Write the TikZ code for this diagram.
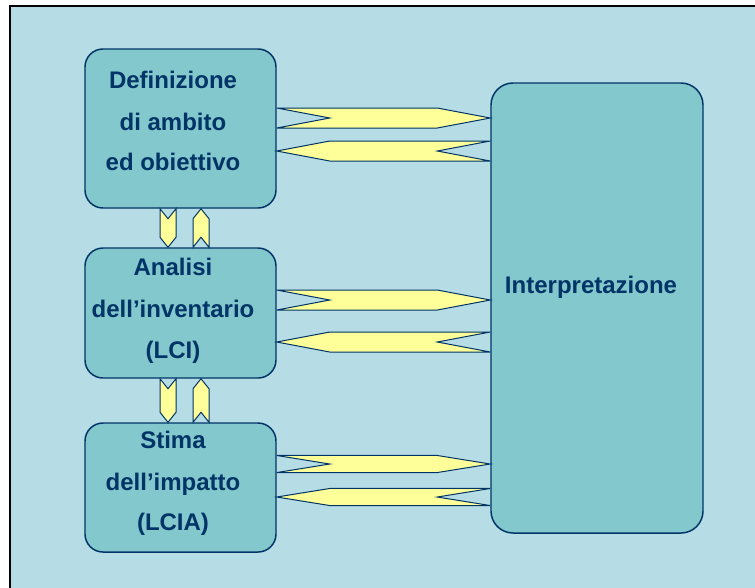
\documentclass[tikz,border=0pt]{standalone}
\usepackage{fontspec}
\setmainfont{Liberation Sans}
\usetikzlibrary{calc}
\definecolor{slidebg}{RGB}{182,221,230}
\definecolor{boxfill}{RGB}{130,200,204}
\definecolor{navy}{RGB}{0,51,102}
\definecolor{arrowfill}{RGB}{255,255,153}
% block arrow with notched tail: start, end, half width, taper
\newcommand{\flowarrow}[4]{%
  \draw[flow] ($(#1)!#3!90:(#2)$) -- ($(#1)!#4!(#2)$) -- ($(#1)!#3!-90:(#2)$)
    -- ($(#2)!#4!(#1)!#3!90:(#1)$) -- (#2) -- ($(#2)!#4!(#1)!#3!-90:(#1)$) -- cycle;}
\begin{document}
\begin{tikzpicture}[x=0.75pt, y=-0.75pt,
    box/.style={draw=navy, fill=boxfill, line width=1.1pt, rounded corners=13.5pt, minimum width=143.25pt, inner sep=0pt},
    lbl/.style={text=navy, font=\fontsize{18}{18}\selectfont\bfseries, anchor=base, inner sep=0pt},
    flow/.style={draw=navy, fill=arrowfill, line width=0.75pt, line join=miter}]
    \useasboundingbox (0,0) rectangle (755,587);
    \fill[white] (0,0) rectangle (755,587);
    \draw[fill=slidebg, line width=1.5pt] (10,6) rectangle (775,600);

    \node[box, minimum height=119.25pt] (def) at (180.5,128.5) {};
    \node[box, minimum height=97.5pt] (lci) at (180.5,313) {};
    \node[box, minimum height=96.75pt] (lcia) at (180.5,487.5) {};
    \node[box, minimum width=159pt, minimum height=337.5pt, rounded corners=16.5pt] (interp) at (597,308) {};

    \node[lbl] (def-a) at (173,88) {Definizione};
    \node[lbl] (def-b) at (173,130) {di ambito};
    \node[lbl] (def-c) at (173,170) {ed obiettivo};
    \node[lbl] (lci-a) at (173,275) {Analisi};
    \node[lbl] (lci-b) at (173,317) {dell’inventario};
    \node[lbl] (lci-c) at (173,358) {(LCI)};
    \node[lbl] (lcia-a) at (173,448) {Stima};
    \node[lbl] (lcia-b) at (173,490) {dell’impatto};
    \node[lbl] (lcia-c) at (173,530) {(LCIA)};
    \node[lbl] (interp-a) at (591,293) {Interpretazione};

    % arrows to and from the interpretation
    \coordinate (def-out) at (def.east |- 0,118);
    \coordinate (def-in) at (def.east |- 0,151);
    \coordinate (interp-1) at (interp.west |- 0,118);
    \coordinate (interp-2) at (interp.west |- 0,151);
    \coordinate (lci-out) at (lci.east |- 0,300);
    \coordinate (lci-in) at (lci.east |- 0,342);
    \coordinate (interp-3) at (interp.west |- 0,300);
    \coordinate (interp-4) at (interp.west |- 0,342);
    \coordinate (lcia-out) at (lcia.east |- 0,464);
    \coordinate (lcia-in) at (lcia.east |- 0,497);
    \coordinate (interp-5) at (interp.west |- 0,464);
    \coordinate (interp-6) at (interp.west |- 0,497);
    \flowarrow{def-out}{interp-1}{7.5pt}{39.75pt}
    \flowarrow{interp-2}{def-in}{7.5pt}{39.75pt}
    \flowarrow{lci-out}{interp-3}{7.5pt}{39.75pt}
    \flowarrow{interp-4}{lci-in}{7.5pt}{39.75pt}
    \flowarrow{lcia-out}{interp-5}{6.4pt}{39.75pt}
    \flowarrow{interp-6}{lcia-in}{6.4pt}{39.75pt}

    % arrows between the phases
    \coordinate (def-down) at (def.south -| 168,0);
    \coordinate (def-up) at (def.south -| 201,0);
    \coordinate (lci-top-down) at (lci.north -| 168,0);
    \coordinate (lci-top-up) at (lci.north -| 201,0);
    \coordinate (lci-bot-down) at (lci.south -| 168,0);
    \coordinate (lci-bot-up) at (lci.south -| 201,0);
    \coordinate (lcia-down) at (lcia.north -| 168,0);
    \coordinate (lcia-up) at (lcia.north -| 201,0);
    \flowarrow{def-down}{lci-top-down}{6pt}{7.5pt}
    \flowarrow{lci-top-up}{def-up}{6pt}{7.5pt}
    \flowarrow{lci-bot-down}{lcia-down}{6pt}{7.5pt}
    \flowarrow{lcia-up}{lci-bot-up}{6pt}{7.5pt}
\end{tikzpicture}
\end{document}
